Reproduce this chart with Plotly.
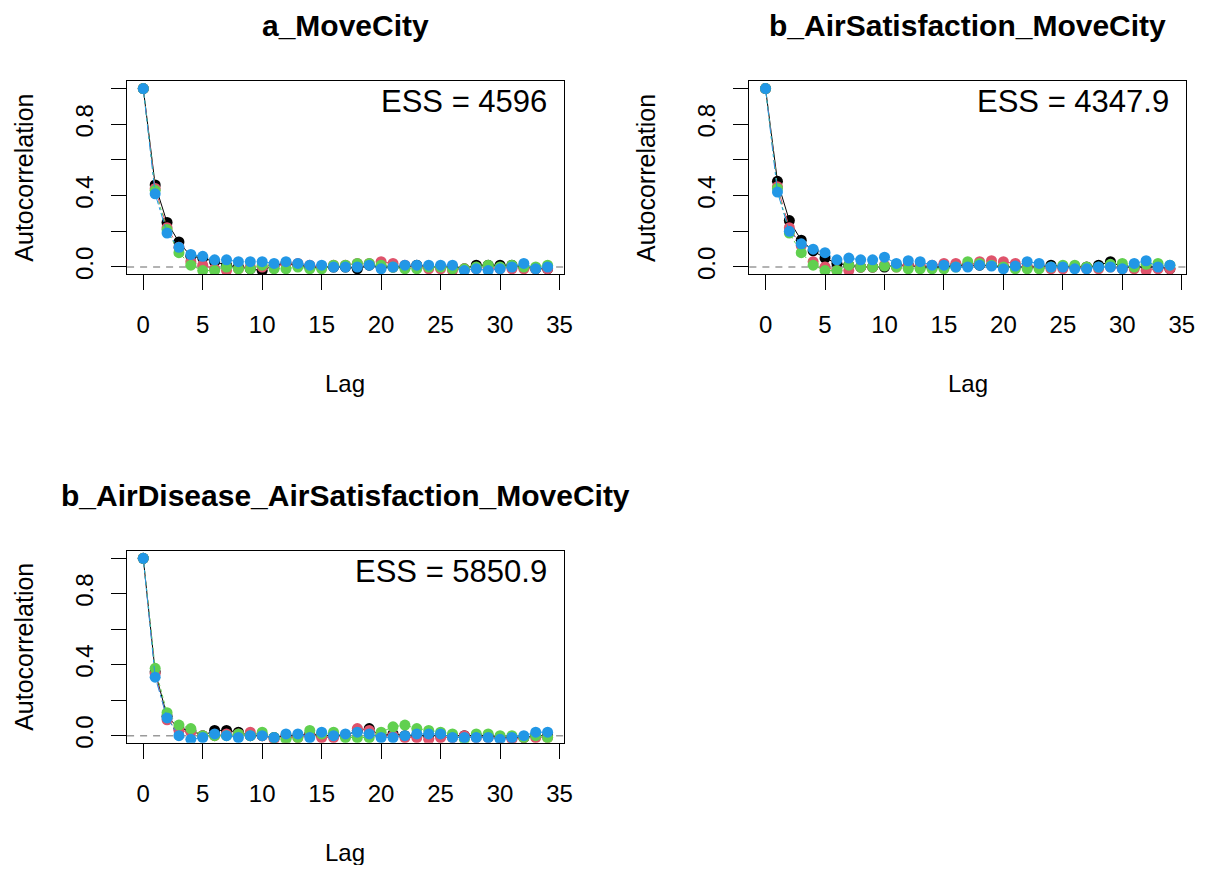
import plotly.graph_objects as go

# the page body has an 8px default margin; the figure is sized to fill the rest of the window
OFF = 8
W, H = 1206 - OFF, 873 - 2 * OFF

lags = list(range(35))

titles = ["a_MoveCity", "b_AirSatisfaction_MoveCity", "b_AirDisease_AirSatisfaction_MoveCity"]
ess_labels = ["ESS = 4596", "ESS = 4347.9", "ESS = 5850.9"]
chain_colors = ["#000000", "#DF536B", "#61D04F", "#2297E6"]
chain_dash = ["solid", "dash", "dot", "dashdot"]

# panel 1: a_MoveCity
p1_black = [1, 0.46, 0.25, 0.14, 0.06, 0.05, 0.03, 0.01, 0.00, -0.01, -0.02, 0.01, 0.02, 0.01, 0.00, 0.00, 0.00, 0.00, -0.01, 0.01, 0.00, 0.00, 0.00, 0.01, 0.00, 0.00, 0.00, -0.01, 0.01, 0.01, 0.01, 0.01, 0.00, -0.01, -0.01]
p1_red = [1, 0.44, 0.22, 0.11, 0.03, 0.01, -0.01, -0.02, -0.01, 0.00, 0.00, 0.00, 0.02, 0.02, 0.01, 0.00, 0.01, 0.01, 0.02, 0.02, 0.03, 0.02, 0.01, 0.00, -0.01, -0.01, -0.02, -0.01, -0.01, -0.01, -0.01, -0.01, -0.01, -0.01, -0.01]
p1_green = [1, 0.43, 0.21, 0.08, 0.01, -0.02, -0.02, 0.00, -0.01, -0.01, 0.01, -0.01, -0.01, 0.00, -0.01, -0.01, 0.01, 0.01, 0.02, 0.02, 0.01, 0.00, -0.01, -0.01, 0.00, 0.00, -0.01, -0.01, 0.00, 0.01, 0.00, 0.01, 0.00, 0.00, 0.01]
p1_blue = [1, 0.41, 0.19, 0.11, 0.07, 0.06, 0.04, 0.04, 0.03, 0.03, 0.03, 0.02, 0.03, 0.02, 0.01, 0.01, 0.00, 0.00, 0.00, 0.01, -0.01, 0.00, 0.01, 0.01, 0.01, 0.01, 0.01, -0.02, -0.01, -0.02, -0.01, 0.00, 0.02, -0.01, 0.00]

# panel 2: b_AirSatisfaction_MoveCity
p2_black = [1, 0.48, 0.26, 0.15, 0.09, 0.05, 0.02, 0.01, 0.00, 0.00, 0.00, 0.01, 0.01, 0.00, 0.00, 0.00, 0.01, 0.01, 0.01, 0.01, 0.00, 0.00, 0.00, 0.00, 0.01, 0.00, 0.00, 0.00, 0.01, 0.03, 0.00, 0.00, 0.00, 0.00, -0.01]
p2_red = [1, 0.45, 0.22, 0.12, 0.03, 0.00, -0.02, -0.02, 0.00, 0.00, 0.01, 0.00, 0.01, 0.01, 0.01, 0.02, 0.02, 0.01, 0.03, 0.035, 0.03, 0.02, 0.00, 0.00, -0.01, -0.01, 0.00, -0.01, -0.01, 0.00, -0.01, -0.01, -0.02, -0.01, -0.01]
p2_green = [1, 0.44, 0.19, 0.08, 0.01, -0.02, -0.02, 0.01, 0.00, 0.00, 0.005, 0.00, -0.01, -0.01, -0.01, -0.01, 0.00, 0.03, 0.02, 0.01, 0.00, -0.01, -0.01, -0.01, 0.00, 0.01, 0.01, 0.00, 0.00, 0.015, 0.02, 0.00, 0.015, 0.02, 0.01]
p2_blue = [1, 0.42, 0.20, 0.13, 0.10, 0.08, 0.04, 0.05, 0.04, 0.04, 0.055, 0.02, 0.035, 0.03, 0.01, 0.01, 0.00, 0.00, 0.01, 0.005, -0.01, 0.005, 0.03, 0.02, 0.00, 0.00, -0.01, -0.01, 0.00, 0.00, -0.01, 0.02, 0.035, 0.00, 0.01]

# panel 3: b_AirDisease_AirSatisfaction_MoveCity
p3_black = [1, 0.36, 0.11, 0.04, 0.03, 0.00, 0.03, 0.03, 0.02, 0.00, 0.00, -0.01, 0.00, 0.00, 0.01, 0.00, 0.00, 0.00, 0.03, 0.04, 0.00, 0.01, 0.00, 0.00, 0.00, 0.00, 0.00, 0.00, 0.00, 0.00, -0.01, -0.01, -0.01, 0.00, 0.00]
p3_red = [1, 0.35, 0.09, 0.03, 0.02, 0.00, 0.00, 0.01, 0.01, 0.02, 0.00, -0.02, -0.01, -0.01, 0.00, -0.01, -0.01, 0.00, 0.04, 0.03, 0.00, 0.00, -0.01, -0.01, -0.02, -0.01, -0.01, 0.00, -0.01, -0.01, -0.01, -0.02, -0.01, -0.01, -0.01]
p3_green = [1, 0.38, 0.13, 0.06, 0.04, 0.00, 0.00, 0.00, 0.01, 0.00, 0.02, -0.01, -0.02, -0.01, 0.03, 0.01, 0.02, -0.01, -0.01, -0.01, 0.02, 0.05, 0.06, 0.04, 0.03, 0.02, 0.01, -0.02, 0.01, 0.01, 0.00, 0.00, -0.01, 0.00, -0.01]
p3_blue = [1, 0.33, 0.10, 0.00, -0.02, -0.01, 0.01, 0.00, -0.01, 0.00, 0.00, -0.01, 0.01, 0.01, -0.01, 0.02, 0.00, 0.01, 0.02, 0.01, -0.01, -0.01, 0.00, 0.01, 0.01, 0.01, -0.01, -0.01, -0.01, -0.01, -0.02, -0.01, 0.00, 0.02, 0.02]

panels = [
    [p1_black, p1_red, p1_green, p1_blue],
    [p2_black, p2_red, p2_green, p2_blue],
    [p3_black, p3_red, p3_green, p3_blue],
]

x_ticks = [0, 5, 10, 15, 20, 25, 30, 35]
y_tickvals = [0.0, 0.2, 0.4, 0.6, 0.8, 1.0]
y_ticktext = ["0.0", "", "0.4", "", "0.8", ""]

# plot boxes in window pixels: (left, right, top, bottom)
boxes = [(128, 568, 82, 276), (755, 1195, 82, 276), (128, 568, 555, 748)]

FONT = "Liberation Sans, Arial, Helvetica, sans-serif"

fig = go.Figure()
layout = dict(
    width=W, height=H, margin=dict(l=0, r=0, t=0, b=0),
    paper_bgcolor="white", plot_bgcolor="white", showlegend=False,
    font=dict(family=FONT, size=24, color="#000000"),
)
annotations = []
shapes = []

def px(sx):
    return (sx - OFF) / W

def py(sy):
    return 1 - (sy - OFF) / H

for i, (series, box) in enumerate(zip(panels, boxes)):
    n = "" if i == 0 else str(i + 1)
    xa, ya = "x" + n, "y" + n
    l, r, t, b = box
    for vals, col, dsh in zip(series, chain_colors, chain_dash):
        fig.add_trace(go.Scatter(
            x=lags, y=vals, mode="lines+markers", xaxis=xa, yaxis=ya,
            line=dict(color=col, width=1, dash=dsh),
            marker=dict(color=col, size=11),
            cliponaxis=True, hoverinfo="skip",
        ))
    common = dict(showgrid=False, zeroline=False, showline=True, mirror=True,
                  linecolor="black", linewidth=1, ticks="outside", ticklen=15,
                  tickcolor="black", tickwidth=1, ticklabeloverflow="allow",
                  tickfont=dict(family=FONT, size=24, color="#000000"))
    layout["xaxis" + n] = dict(common, domain=[px(l), px(r)], range=[-1.36, 35.36],
                               tickvals=x_ticks, anchor=ya, ticklabelstandoff=14)
    layout["yaxis" + n] = dict(common, domain=[py(b), py(t)], range=[-0.04, 1.04],
                               tickvals=y_tickvals, ticktext=y_ticktext, tickangle=-90,
                               anchor=xa, ticklabelstandoff=9)
    shapes.append(dict(type="line", xref=xa + " domain", yref=ya, x0=0, x1=1, y0=0, y1=0,
                       line=dict(color="#9a9a9a", width=1.6, dash="7px,6px"), layer="below"))
    cx = (l + r) / 2
    annotations.append(dict(text="<b>" + titles[i] + "</b>", x=px(cx), y=py(t - 56),
                            xref="paper", yref="paper", showarrow=False,
                            xanchor="center", yanchor="middle",
                            font=dict(family=FONT, size=30, color="#000000")))
    annotations.append(dict(text=ess_labels[i], x=px(r - 15), y=py(t + 20),
                            xref="paper", yref="paper", showarrow=False,
                            xanchor="right", yanchor="middle",
                            font=dict(family=FONT, size=31, color="#000000")))
    annotations.append(dict(text="Lag", x=px(cx), y=py(b + 110),
                            xref="paper", yref="paper", showarrow=False,
                            xanchor="center", yanchor="middle",
                            font=dict(family=FONT, size=24, color="#000000")))
    annotations.append(dict(text="Autocorrelation", x=px(l - 104), y=py((t + b) / 2),
                            xref="paper", yref="paper", showarrow=False, textangle=-90,
                            xanchor="center", yanchor="middle",
                            font=dict(family=FONT, size=25, color="#000000")))

layout["annotations"] = annotations
layout["shapes"] = shapes
fig.update_layout(**layout)
fig.write_html("out.html")
